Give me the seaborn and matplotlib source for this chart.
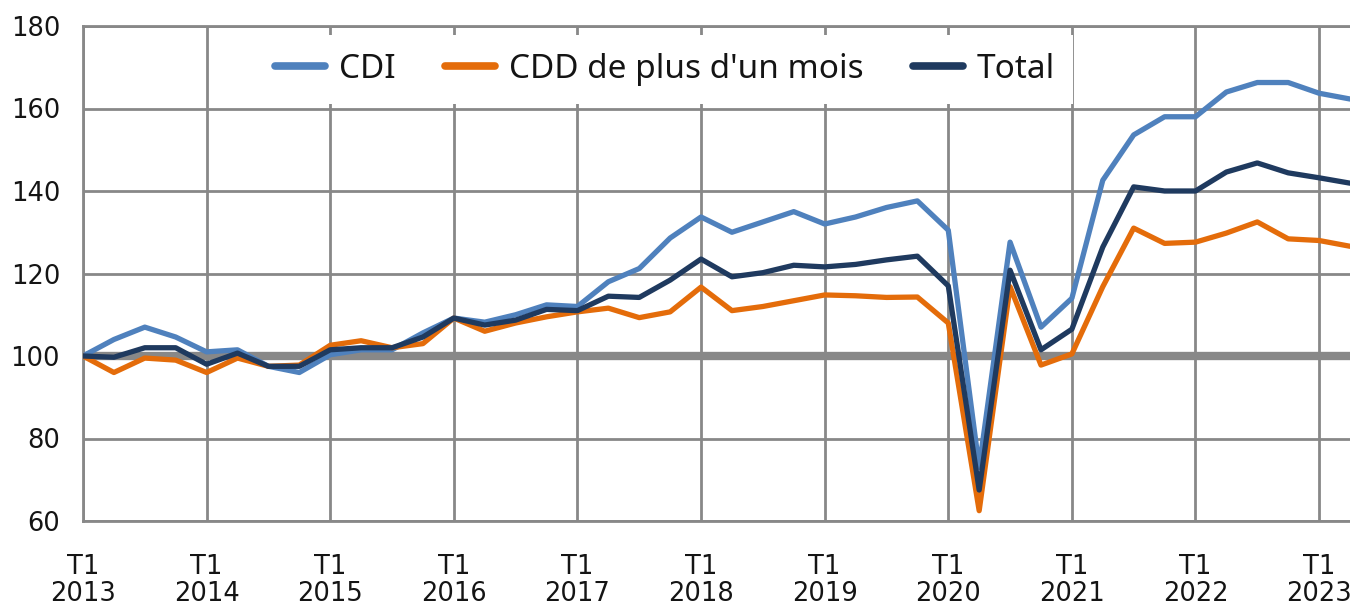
import matplotlib
matplotlib.use("Agg")
import matplotlib.pyplot as plt
import seaborn as sns
import pandas as pd

years = list(range(2013, 2024))
quarters = [f"T{q} {y}" for y in years for q in (1, 2, 3, 4)][:42]

cdi = [100, 104, 107, 104.6, 101, 101.5, 97.5, 96, 100.3, 101.5, 101.5, 105.6,
       109.2, 108.2, 110, 112.4, 112, 118, 121.2, 128.6, 133.7, 130, 132.5, 135,
       132, 133.7, 136, 137.6, 130.5, 73, 127.6, 107, 114, 142.6, 153.6, 158,
       158, 164, 166.3, 166.3, 163.7, 162.3]
cdd = [100, 96, 99.5, 99, 96, 99.5, 97.5, 97.8, 102.6, 103.7, 102, 103,
       109.2, 106, 108, 109.5, 110.7, 111.6, 109.3, 110.7, 116.7, 111, 112, 113.4,
       114.8, 114.6, 114.2, 114.3, 108, 62.5, 116.8, 97.8, 100.5, 116.8, 131, 127.3,
       127.6, 129.8, 132.5, 128.4, 128, 126.6]
total = [100, 99.7, 102, 102, 98, 100.7, 97.5, 97.5, 101.5, 102, 102, 104.6,
         109.2, 107.5, 108.7, 111.3, 111, 114.5, 114.2, 118.4, 123.5, 119.2, 120.2, 122,
         121.6, 122.2, 123.3, 124.2, 117, 67.5, 120.8, 101.5, 106.5, 126.4, 141, 140,
         140, 144.6, 146.8, 144.4, 143.2, 141.9]

series_names = ["CDI", "CDD de plus d'un mois", "Total"]
colors = ["#4F81BD", "#E46C0A", "#1F3A5F"]
yticks = [60, 80, 100, 120, 140, 160, 180]

rows = []
for name, vals in zip(series_names, [cdi, cdd, total]):
    for i, (q, v) in enumerate(zip(quarters, vals)):
        rows.append({"idx": i, "trimestre": q, "serie": name, "valeur": v})
df = pd.DataFrame(rows)

sns.set_style("white")
plt.rcParams["font.family"] = ["DejaVu Sans"]

fig = plt.figure(figsize=(13.5, 6.05), dpi=100)
ax = fig.add_axes([83 / 1350, 84 / 605, 1 - 83 / 1350, 495 / 605])

grid_c = "#888888"
ax.axhline(100, color=grid_c, lw=6, zorder=1.5)

sns.lineplot(data=df, x="idx", y="valeur", hue="serie", hue_order=series_names,
             palette=colors, linewidth=3.8, ax=ax, zorder=3, legend=False)

ax.set_xlim(0, 41)
ax.set_ylim(60, 180)
ax.set_yticks(yticks)
ax.set_yticklabels([str(t) for t in yticks])
t1_pos = [i for i, q in enumerate(quarters) if q.startswith("T1")]
ax.set_xticks(t1_pos)
ax.set_xticklabels([quarters[i].replace(" ", "\n") for i in t1_pos], linespacing=1.05)
ax.set_xlabel("")
ax.set_ylabel("")

ax.grid(True, color=grid_c, lw=2, zorder=1)
ax.set_axisbelow(True)
for s in ["left", "bottom", "top"]:
    ax.spines[s].set_color(grid_c)
    ax.spines[s].set_linewidth(2)
ax.spines["right"].set_visible(False)

ax.tick_params(axis="y", length=4.5, width=2, color=grid_c, pad=12,
               labelsize=18.5, labelcolor="#141414")
ax.tick_params(axis="x", length=0, pad=24, labelsize=18.5, labelcolor="#141414")

from matplotlib.lines import Line2D
handles = [Line2D([], [], color=c, lw=5.5) for c in colors]
leg = ax.legend(handles, series_names, loc="center", bbox_to_anchor=(0.4595, 0.912),
                ncol=3, frameon=True, facecolor="white", edgecolor="none", framealpha=1,
                fancybox=False, handlelength=1.5, handletextpad=0.4, columnspacing=1.5,
                prop={"family": "Noto Sans", "size": 24}, borderpad=0.55)
for t in leg.get_texts():
    t.set_color("#141414")
leg.set_zorder(5)

fig.savefig("out.png", dpi=100)
